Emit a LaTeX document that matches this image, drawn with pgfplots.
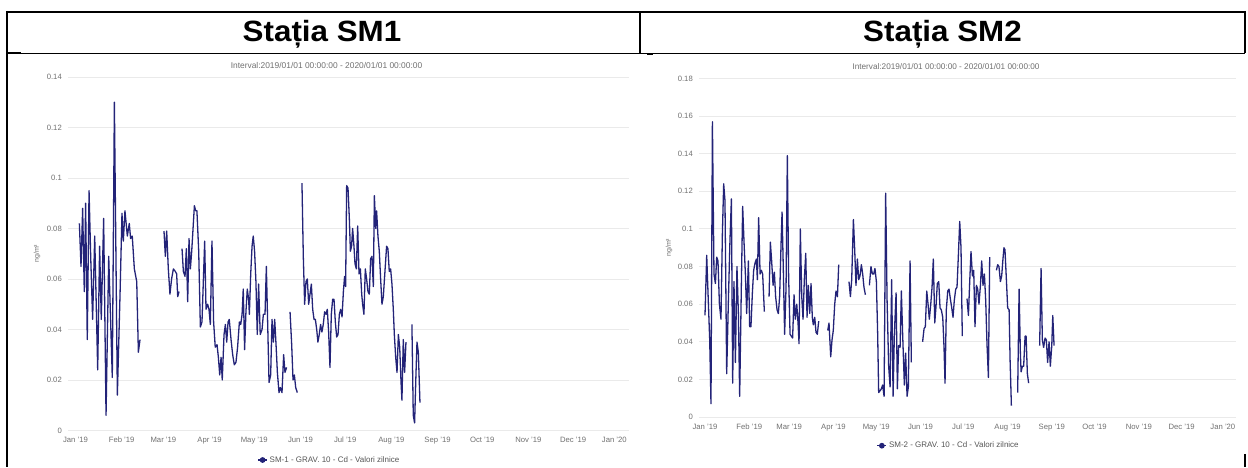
\documentclass[border=0pt]{standalone}
\usepackage{fontspec}
\setmainfont{Liberation Sans}
\usepackage{pgfplots}
\pgfplotsset{compat=1.18}
\definecolor{navy}{RGB}{35,35,120}
\definecolor{gridc}{RGB}{234,234,234}
\definecolor{labc}{RGB}{112,112,112}
\definecolor{legc}{RGB}{85,85,85}
\pgfplotsset{
  hc/.style={
    scale only axis, anchor=south west,
    axis line style={draw=none},
    major tick length=0pt,
    ymajorgrids, grid style={gridc, line width=0.9pt},
    tick label style={font=\fontsize{7.7}{9}\selectfont, text=labc, inner sep=0pt},
    xticklabel style={anchor=north, yshift=-6.5pt},
    yticklabel style={anchor=east, xshift=-6pt},
    xtick={0,31,59,90,120,151,181,212,243,273,304,334},
    xticklabels={Jan '19,Feb '19,Mar '19,Apr '19,May '19,Jun '19,Jul '19,Aug '19,Sep '19,Oct '19,Nov '19,Dec '19},
    extra x ticks={365},
    extra x tick labels={Jan '20},
    unbounded coords=jump,
    ymin=0,
    ylabel={ng/m³},
    legend style={draw=none, fill=none, inner sep=0pt, anchor=center,
      font=\fontsize{8}{9}\selectfont, text=legc, cells={anchor=west}},
    legend image code/.code={\draw[navy,line width=1.3pt] (0pt,0pt) -- (9pt,0pt);
      \fill[navy] (4.5pt,0pt) circle (2.2pt);},
  }
}
\begin{document}
\begin{tikzpicture}
\path (0pt,0pt) rectangle (1248pt,467pt);
% table frame
\draw[line width=2pt] (7pt,455pt) -- (1245pt,455pt);
\draw[line width=1.2pt] (7pt,413.7pt) -- (1245pt,413.7pt);
\draw[line width=2pt] (7pt,413.5pt) -- (21pt,413.5pt);
\draw[line width=1.7pt] (640pt,455pt) -- (640pt,413.7pt);
\draw[line width=1.4pt] (647pt,412.3pt) -- (653pt,412.3pt);
\draw[line width=2pt] (7pt,456pt) -- (7pt,0pt);
\draw[line width=2pt] (1245pt,456pt) -- (1245pt,413.7pt);
\draw[line width=2pt] (1245pt,13pt) -- (1245pt,0pt);
\node[font=\fontsize{29.3}{31}\selectfont\bfseries, anchor=base, inner sep=0pt, xscale=1.07] at (322pt,425.3pt) {Stația SM1};
\node[font=\fontsize{29.3}{31}\selectfont\bfseries, anchor=base, inner sep=0pt, xscale=1.07] at (942.5pt,425.3pt) {Stația SM2};

% ---------- SM1 ----------
\begin{axis}[hc, at={(68pt,36.5pt)}, width=561pt, height=353.5pt,
  xmin=-5.03, xmax=371.5, ymax=0.14,
  ytick={0,0.02,0.04,0.06,0.08,0.1,0.12,0.14},
  yticklabels={0,0.02,0.04,0.06,0.08,0.1,0.12,0.14},
  extra x tick style={xticklabel style={xshift=-5pt}},
  title={Interval:2019/01/01 00:00:00 - 2020/01/01 00:00:00},
  every axis title/.style={at={(0.4608,1)}, anchor=base, yshift=8pt, font=\fontsize{8.4}{10}\selectfont, text=labc},
  every axis y label/.style={at={(-0.0553,0.5)}, rotate=90, anchor=center, font=\fontsize{7}{8}\selectfont, text=labc},
  legend style={at={(0.466,-0.0835)}},
]
\addplot[navy, line width=1.3pt, line join=round] table {
x y
2.6 0.082
3.7 0.065
4.8 0.088
5.9 0.055
6.8 0.090
7.9 0.036
9.1 0.095
10.2 0.069
11.5 0.044
12.9 0.077
14.9 0.024
16.2 0.073
17.3 0.044
18.9 0.084
20.5 0.006
22.3 0.069
24.7 0.021
26.1 0.130
28.1 0.014
29.9 0.054
31.2 0.086
32.1 0.075
33.2 0.087
34.8 0.077
36.1 0.082
37.0 0.076
38.1 0.077
39.5 0.064
41.1 0.059
42.2 0.031
43.3 0.036
nan nan
59.4 0.079
60.3 0.069
61.2 0.079
62.3 0.064
63.4 0.054
64.5 0.060
65.7 0.064
67.0 0.063
67.9 0.062
68.6 0.053
69.5 0.055
nan nan
71.5 0.072
72.4 0.063
73.5 0.061
74.4 0.072
75.3 0.051
76.2 0.076
77.1 0.064
78.0 0.071
78.9 0.080
79.8 0.089
80.7 0.087
81.5 0.087
82.7 0.071
83.8 0.041
84.9 0.043
85.8 0.059
86.7 0.075
87.6 0.048
88.7 0.050
89.6 0.048
90.5 0.042
91.6 0.075
92.7 0.043
93.8 0.033
95.0 0.034
95.9 0.029
96.8 0.022
97.7 0.029
98.5 0.020
99.7 0.038
100.6 0.042
101.5 0.035
102.4 0.043
103.2 0.044
104.4 0.036
105.5 0.030
106.6 0.026
107.7 0.027
108.8 0.033
110.0 0.043
110.9 0.042
111.8 0.046
112.6 0.056
113.5 0.032
114.4 0.047
115.3 0.056
116.2 0.052
116.7 0.046
117.6 0.062
118.5 0.073
119.3 0.077
120.2 0.071
121.1 0.059
122.0 0.038
122.9 0.058
124.0 0.038
125.2 0.040
126.1 0.046
127.2 0.046
128.1 0.065
129.0 0.042
129.9 0.019
131.0 0.022
131.9 0.044
132.8 0.035
133.7 0.044
134.6 0.034
135.5 0.023
136.6 0.015
137.5 0.017
138.6 0.015
139.7 0.030
140.6 0.023
141.7 0.025
nan nan
144.0 0.047
145.1 0.034
146.0 0.020
146.9 0.022
147.8 0.017
148.9 0.015
nan nan
152.0 0.098
152.9 0.069
153.8 0.050
154.7 0.059
155.6 0.060
156.5 0.050
157.4 0.054
158.3 0.058
159.2 0.048
160.1 0.044
161.0 0.044
161.9 0.040
162.7 0.035
163.6 0.038
164.5 0.042
165.4 0.039
166.3 0.042
167.2 0.047
168.1 0.046
169.0 0.048
169.9 0.039
170.8 0.025
171.7 0.046
172.6 0.052
173.5 0.052
174.4 0.043
175.3 0.037
176.2 0.038
177.1 0.046
178.0 0.048
178.9 0.045
179.8 0.055
180.6 0.061
181.3 0.057
182.0 0.097
182.9 0.096
183.8 0.084
184.5 0.071
185.3 0.073
186.0 0.080
186.9 0.073
187.6 0.066
188.5 0.064
189.4 0.081
190.3 0.062
191.2 0.064
192.1 0.054
192.7 0.050
193.6 0.046
194.5 0.064
195.4 0.060
196.3 0.055
197.2 0.054
198.1 0.068
199.0 0.069
199.9 0.057
200.6 0.093
201.5 0.080
202.1 0.087
203.0 0.077
203.9 0.071
204.8 0.060
205.7 0.050
206.6 0.053
207.7 0.063
208.8 0.073
209.7 0.072
210.6 0.063
211.5 0.064
212.4 0.058
213.3 0.048
214.0 0.038
214.9 0.029
215.8 0.023
216.7 0.038
217.6 0.033
218.5 0.019
219.1 0.012
220.0 0.036
220.9 0.023
221.8 0.035
nan nan
225.8 0.042
226.7 0.006
227.6 0.003
228.5 0.022
229.2 0.035
230.1 0.031
231.2 0.011
};
\addlegendentry{SM-1 - GRAV. 10 - Cd - Valori zilnice}
\end{axis}

% ---------- SM2 ----------
\begin{axis}[hc, at={(699pt,50pt)}, width=537pt, height=338.5pt,
  xmin=-4.2, xmax=372.1, ymax=0.18,
  ytick={0,0.02,0.04,0.06,0.08,0.1,0.12,0.14,0.16,0.18},
  yticklabels={0,0.02,0.04,0.06,0.08,0.1,0.12,0.14,0.16,0.18},
  extra x tick style={xticklabel style={xshift=-3pt}},
  title={Interval:2019/01/01 00:00:00 - 2020/01/01 00:00:00},
  every axis title/.style={at={(0.46,1)}, anchor=base, yshift=8.5pt, font=\fontsize{8.2}{10}\selectfont, text=labc},
  every axis y label/.style={at={(-0.0559,0.5)}, rotate=90, anchor=center, font=\fontsize{7}{8}\selectfont, text=labc},
  legend style={at={(0.465,-0.0848)}},
]
\addplot[navy, line width=1.3pt, line join=round] table {
x y
0.0 0.054
1.2 0.086
2.3 0.062
3.3 0.041
4.2 0.007
5.2 0.157
6.3 0.076
7.3 0.071
8.2 0.085
9.1 0.083
10.1 0.060
11.2 0.052
12.2 0.098
13.1 0.124
14.0 0.115
15.2 0.023
16.4 0.062
17.5 0.094
18.5 0.116
19.4 0.018
20.3 0.072
21.3 0.029
22.4 0.080
23.4 0.055
24.3 0.011
25.5 0.071
26.4 0.112
27.3 0.094
28.3 0.076
29.2 0.055
30.4 0.083
31.3 0.048
32.2 0.048
33.2 0.066
34.1 0.078
35.1 0.082
36.0 0.084
36.7 0.073
37.6 0.106
38.6 0.076
39.5 0.078
40.4 0.076
41.6 0.056
nan nan
44.9 0.064
45.8 0.093
46.7 0.083
47.7 0.070
48.6 0.077
49.5 0.064
50.5 0.057
51.4 0.055
52.3 0.064
53.3 0.092
54.0 0.109
54.9 0.078
55.8 0.044
56.8 0.069
57.7 0.139
58.6 0.075
59.6 0.044
60.5 0.043
61.4 0.042
62.4 0.065
63.3 0.052
64.3 0.060
65.2 0.050
65.9 0.039
66.8 0.100
67.8 0.064
68.7 0.052
69.6 0.073
70.6 0.087
71.5 0.053
72.4 0.070
73.4 0.055
74.3 0.071
75.2 0.053
75.9 0.049
76.9 0.053
77.8 0.045
78.7 0.044
79.7 0.051
nan nan
86.0 0.046
86.9 0.050
88.1 0.032
89.0 0.041
89.9 0.046
90.9 0.060
91.8 0.067
92.8 0.064
93.7 0.081
nan nan
100.9 0.072
101.9 0.064
102.8 0.073
104.0 0.105
104.9 0.089
105.8 0.070
106.8 0.084
107.7 0.073
108.6 0.075
109.6 0.081
110.5 0.076
111.4 0.069
112.4 0.065
nan nan
115.2 0.070
116.3 0.080
117.3 0.076
118.2 0.076
119.1 0.079
120.1 0.072
121.0 0.044
121.7 0.013
122.7 0.014
123.6 0.015
124.5 0.017
125.5 0.011
126.6 0.119
127.6 0.062
128.7 0.027
129.7 0.016
130.8 0.073
131.8 0.011
132.7 0.044
133.9 0.066
134.8 0.015
135.7 0.038
136.7 0.037
137.6 0.067
138.5 0.044
139.7 0.017
140.6 0.034
141.6 0.011
142.5 0.016
143.7 0.083
144.6 0.029
nan nan
152.5 0.040
153.5 0.047
154.4 0.048
155.4 0.067
156.3 0.060
157.2 0.052
158.2 0.060
159.1 0.069
160.0 0.084
161.0 0.050
161.9 0.059
162.8 0.071
163.8 0.072
164.7 0.058
165.6 0.057
166.6 0.053
167.5 0.037
168.2 0.018
169.1 0.057
170.1 0.067
171.0 0.068
171.9 0.063
172.9 0.058
173.8 0.053
174.7 0.062
175.7 0.068
176.6 0.069
177.5 0.085
178.5 0.104
179.4 0.090
180.3 0.043
nan nan
183.6 0.063
184.6 0.054
185.5 0.072
186.4 0.088
187.4 0.075
188.3 0.078
189.2 0.048
190.2 0.070
191.1 0.068
192.0 0.060
193.0 0.070
193.9 0.083
194.8 0.070
195.8 0.076
196.7 0.062
197.6 0.039
198.6 0.021
199.5 0.085
nan nan
204.2 0.078
205.1 0.081
206.0 0.080
207.0 0.072
207.9 0.075
208.8 0.084
209.5 0.090
210.2 0.089
211.2 0.073
212.1 0.058
213.1 0.057
213.8 0.030
214.7 0.006
nan nan
219.1 0.013
220.1 0.068
221.0 0.034
221.5 0.024
222.4 0.027
223.3 0.027
224.3 0.043
225.0 0.043
225.9 0.023
226.8 0.018
nan nan
234.5 0.038
235.5 0.079
236.4 0.041
237.3 0.037
238.3 0.042
239.2 0.041
240.1 0.029
241.1 0.040
242.0 0.027
243.0 0.038
243.7 0.054
244.6 0.038
};
\addlegendentry{SM-2 - GRAV. 10 - Cd - Valori zilnice}
\end{axis}
\end{tikzpicture}
\end{document}
